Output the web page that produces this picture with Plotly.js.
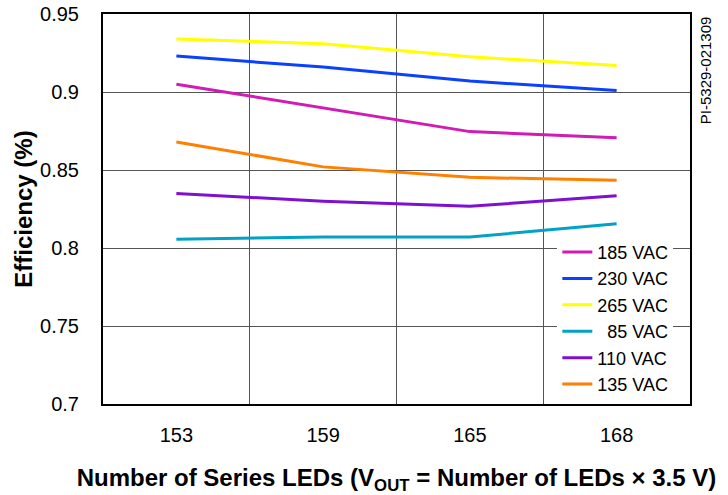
<!DOCTYPE html>
<html>
<head>
<meta charset="utf-8">
<script src="https://cdn.plot.ly/plotly-3.0.1.min.js"></script>
<style>html,body{margin:0;padding:0;background:#fff;}#chart{width:728px;height:495px;}</style>
</head>
<body>
<div id="chart"></div>
<script>
const categories = ["153", "159", "165", "168"];
const seriesNames = ["185 VAC", "230 VAC", "265 VAC", "\u00a0\u00a085 VAC", "110 VAC", "135 VAC"];
const v185 = [0.905, 0.890, 0.8746, 0.8707];
const v230 = [0.923, 0.916, 0.907, 0.901];
const v265 = [0.934, 0.931, 0.9226, 0.917];
const v85  = [0.8056, 0.807, 0.807, 0.8156];
const v110 = [0.835, 0.830, 0.8267, 0.8335];
const v135 = [0.868, 0.852, 0.8453, 0.8434];
const colors = ["#d21bb4", "#0a40ff", "#ffff00", "#00a2c6", "#7f10d2", "#ff7f00"];
const seriesValues = [v185, v230, v265, v85, v110, v135];
const yTicks = [0.7, 0.75, 0.8, 0.85, 0.9, 0.95];
const yTickText = ["0.7", "0.75", "0.8", "0.85", "0.9", "0.95"];

const font = "Liberation Sans, Arial, Helvetica, sans-serif";
const traces = seriesValues.map((vals, i) => ({
  x: categories, y: vals, name: seriesNames[i], type: "scatter", mode: "lines",
  line: {color: colors[i], width: 3}
}));

const layout = {
  width: 728, height: 495,
  margin: {l: 103, r: 38, t: 14, b: 91},
  paper_bgcolor: "#fff", plot_bgcolor: "#fff",
  font: {family: font, size: 18, color: "#000"},
  showlegend: true,
  legend: {x: 0.774, xanchor: "left", y: 0.003, yanchor: "bottom", bgcolor: "#fff",
           font: {family: font, size: 18, color: "#000"}, tracegroupgap: 0, itemwidth: 30},
  xaxis: {
    type: "category", range: [-0.5, 3.5], tickson: "boundaries",
    showgrid: true, gridcolor: "#555", gridwidth: 1,
    showline: true, linecolor: "#000", linewidth: 2, mirror: true,
    ticks: "", ticklabelstandoff: 12, zeroline: false,
    tickfont: {family: font, size: 20, color: "#000"},
    title: {text: "<b>Number of Series LEDs (V<sub>OUT</sub> = Number of LEDs × 3.5 V)</b>",
            font: {family: font, size: 24, color: "#000"}, standoff: 25}
  },
  yaxis: {
    range: [0.7, 0.95], tickvals: yTicks, ticktext: yTickText,
    showgrid: true, gridcolor: "#555", gridwidth: 1,
    showline: true, linecolor: "#000", linewidth: 2, mirror: true,
    ticks: "", ticklabelstandoff: 18, zeroline: false,
    tickfont: {family: font, size: 20, color: "#000"},
    title: {text: "<b>Efficiency (%)</b>", font: {family: font, size: 24, color: "#000"}, standoff: 1}
  },
  annotations: [{
    text: "PI-5329-021309", xref: "paper", yref: "paper", x: 1.008, y: 1.0, xanchor: "left", yanchor: "top",
    textangle: -90, showarrow: false, font: {family: font, size: 15, color: "#000"}
  }]
};
Plotly.newPlot("chart", traces, layout, {displayModeBar: false, staticPlot: true});
</script>
</body>
</html>
